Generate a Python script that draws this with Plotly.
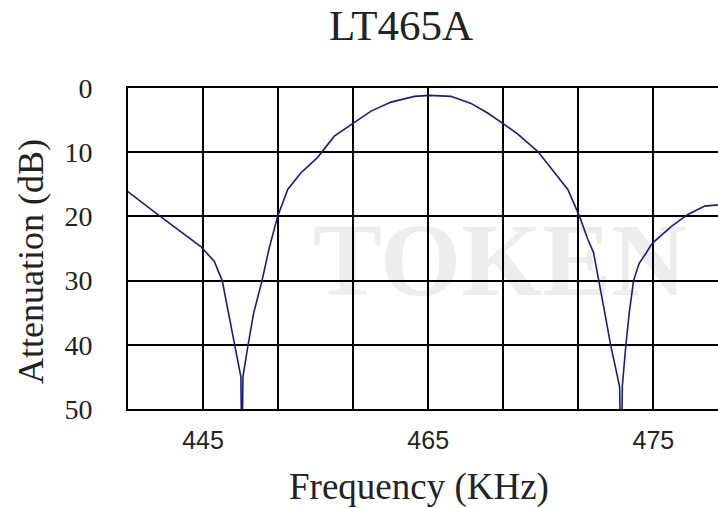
import plotly.graph_objects as go

# Response curve (frequency in kHz, attenuation in dB)
freq = [451.64, 452.98, 454.90, 455.50, 455.85, 456.12, 456.40, 456.68, 456.73, 456.77,
        457.00, 457.25, 457.62, 457.92, 458.31, 458.76, 459.35, 460.09, 460.83, 461.72,
        462.46, 463.35, 464.39, 465.05, 466.01, 466.90, 467.64, 468.39, 468.98, 469.87,
        470.46, 471.20, 471.72, 472.09, 472.34, 472.59, 472.84, 473.10, 473.50, 473.57,
        473.62, 473.78, 473.93, 474.12, 474.37, 474.68, 474.89, 475.05, 475.79, 476.53,
        477.28, 477.87]
atten = [16.1, 19.7, 24.7, 27.0, 30.0, 35.0, 40.0, 45.0, 60.0, 45.0,
         40.0, 35.0, 30.0, 25.2, 20.0, 15.8, 13.2, 10.8, 7.5, 5.4,
         3.6, 2.2, 1.3, 1.15, 1.3, 2.4, 3.9, 5.7, 7.2, 9.9,
         12.5, 15.8, 20.0, 23.6, 25.6, 30.0, 35.0, 40.0, 46.5, 60.0,
         46.5, 40.0, 35.0, 30.0, 27.3, 25.7, 24.5, 23.9, 21.6, 19.7,
         18.4, 18.2]

title_text = "LT465A"
x_title = "Frequency (KHz)"
y_title = "Attenuation (dB)"
x_tick_labels = ["", "445", "", "", "465", "", "", "475"]
y_tick_values = [0, 10, 20, 30, 40, 50]

x_grid = [465 + (k - 4) * 10 / 3 for k in range(len(x_tick_labels))]

fig = go.Figure()
fig.add_trace(go.Scatter(x=freq, y=atten, mode="lines",
                         line=dict(color="#1c1c7a", width=1.6),
                         hoverinfo="skip", showlegend=False))

# faint watermark behind the grid
fig.add_shape(type="rect", xref="paper", yref="paper", x0=0.27, x1=0.99, y0=0.25, y1=0.75,
              line=dict(width=0), fillcolor="rgba(0,0,0,0)", layer="below",
              label=dict(text="TOKEN", textposition="middle center",
                         font=dict(family="Liberation Serif", size=104, color="#ededed",
                                   weight="bold")))

fig.add_annotation(text=title_text, xref="paper", yref="paper",
                   x=(401 - 128) / 590, y=(409 - 25) / 321, xanchor="center", yanchor="middle",
                   showarrow=False, font=dict(family="Liberation Serif", size=43, color="#222"))
fig.add_annotation(text=x_title, xref="paper", yref="paper",
                   x=(419 - 128) / 590, y=(409 - 487) / 321, xanchor="center", yanchor="middle",
                   showarrow=False, font=dict(family="Liberation Serif", size=37, color="#222"))
fig.add_annotation(text=y_title, xref="paper", yref="paper", textangle=-90,
                   x=(31 - 128) / 590, y=(409 - 262) / 321, xanchor="center", yanchor="middle",
                   showarrow=False, font=dict(family="Liberation Serif", size=36, color="#222"))

fig.update_xaxes(range=[x_grid[0], 477.87], tickmode="array", tickvals=x_grid,
                 ticktext=x_tick_labels, showgrid=True, gridcolor="black", gridwidth=2,
                 showline=True, linecolor="black", linewidth=2, mirror=True,
                 ticks="", ticklabelstandoff=8, zeroline=False,
                 tickfont=dict(family="Liberation Sans", size=25, color="#222"))
fig.update_yaxes(range=[50, 0], tickmode="array", tickvals=y_tick_values,
                 showgrid=True, gridcolor="black", gridwidth=2,
                 showline=True, linecolor="black", linewidth=2,
                 ticks="", ticklabelstandoff=28, zeroline=False,
                 tickfont=dict(family="Liberation Serif", size=28, color="#222"))

fig.update_layout(width=718, height=508, margin=dict(l=128, r=0, t=88, b=99),
                  paper_bgcolor="white", plot_bgcolor="rgba(0,0,0,0)")

fig.write_html("out.html", config={"displayModeBar": False},
               post_script="document.body.style.margin='0';")
